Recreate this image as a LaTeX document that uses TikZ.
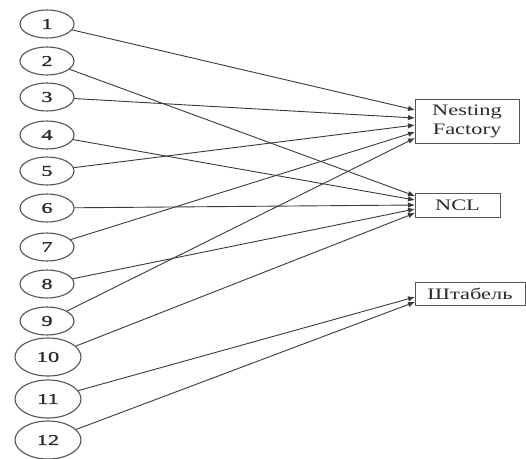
\documentclass[tikz,border=0pt]{standalone}
\usepackage{fontspec}
\setmainfont{Liberation Serif}
\newfontfamily\widefont[FakeStretch=1.4]{Liberation Serif}
\newfontfamily\digitfont[FakeStretch=1.5,FakeBold=1]{Liberation Serif}
\usetikzlibrary{shapes.geometric,arrows.meta}
\definecolor{inkline}{HTML}{3A3A3A}
\definecolor{inkedge}{HTML}{555555}
\definecolor{inktext}{HTML}{2A2A2A}
\begin{document}
\begin{tikzpicture}[x=1pt,y=-1pt,
  src/.style={ellipse,draw=inkedge,line width=1.1pt,inner sep=0pt,
    minimum width=54pt,minimum height=28pt,text=inktext,
    font=\digitfont\fontsize{15}{15}\selectfont},
  srcbig/.style={src,minimum width=66pt,minimum height=38pt},
  dest/.style={rectangle,draw=inkedge,line width=1pt,inner sep=0pt,
    text=inktext,align=center,font=\widefont\fontsize{16}{19}\selectfont},
  link/.style={draw=inkline,line width=0.9pt,
    -{Latex[length=7pt,width=5.5pt]}}]
\useasboundingbox (0,0) rectangle (526,458);
\fill[white] (0,0) rectangle (526,458);

% source nodes
\node[src] (c1)  at (47,24)  {1};
\node[src] (c2)  at (47,61)  {2};
\node[src] (c3)  at (47,97)  {3};
\node[src] (c4)  at (47,135) {4};
\node[src] (c5)  at (47,171) {5};
\node[src] (c6)  at (47,208) {6};
\node[src] (c7)  at (47,247) {7};
\node[src] (c8)  at (47,284) {8};
\node[src] (c9)  at (47,321) {9};
\node[srcbig] (c10) at (48,357) {10};
\node[srcbig] (c11) at (48,399) {11};
\node[srcbig] (c12) at (48,440) {12};

% destination nodes
\node[dest,minimum width=104pt,minimum height=44pt] (nf) at (467,121) {Nesting\\Factory};
\node[dest,minimum width=85pt,minimum height=24pt] (ncl) at (457.5,205) {NCL};
\node[dest,minimum width=110pt,minimum height=23pt] (sh) at (470,293.5) {Штабель};

% arrival points on the left sides of the boxes
\coordinate (n1) at (415,110);
\coordinate (n3) at (415,118);
\coordinate (n5) at (415,125);
\coordinate (n7) at (415,132);
\coordinate (n9) at (415,138);
\coordinate (l2) at (415,196);
\coordinate (l4) at (415,200);
\coordinate (l6) at (415,205);
\coordinate (l8) at (415,209);
\coordinate (l10) at (415,213);
\coordinate (s11) at (415,297);
\coordinate (s12) at (415,302);

% connectors
\draw[link] (c1) -- (n1);
\draw[link] (c3) -- (n3);
\draw[link] (c5) -- (n5);
\draw[link] (c7) -- (n7);
\draw[link] (c9) -- (n9);
\draw[link] (c2) -- (l2);
\draw[link] (c4) -- (l4);
\draw[link] (c6) -- (l6);
\draw[link] (c8) -- (l8);
\draw[link] (c10) -- (l10);
\draw[link] (c11) -- (s11);
\draw[link] (c12) -- (s12);
\end{tikzpicture}
\end{document}
